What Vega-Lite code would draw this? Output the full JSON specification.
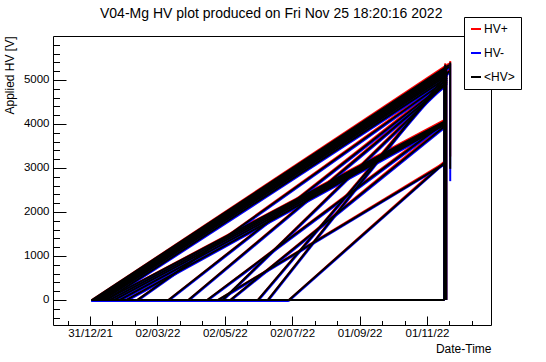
{
  "$schema": "https://vega.github.io/schema/vega-lite/v6.json",
  "width": 438,
  "height": 289,
  "autosize": {"type": "none"},
  "padding": {"left": 53, "top": 36, "right": 55, "bottom": 37},
  "background": "white",
  "title": {
    "text": "V04-Mg HV plot produced on Fri Nov 25 18:20:16 2022",
    "anchor": "start",
    "frame": "group",
    "dx": 47,
    "offset": -4,
    "font": "Liberation Sans",
    "fontSize": 14,
    "fontWeight": "normal",
    "color": "black"
  },
  "data": {
    "values": [
      {"g": "b1", "t": "2022-01-01T00:00", "HV+": 0, "HV-": -25, "<HV>": 0},
      {"g": "b1", "t": "2022-06-29T00:00", "HV+": 0, "HV-": -25, "<HV>": 0},
      {"g": "b2", "t": "2022-06-29T00:00", "HV+": 0, "HV-": 0, "<HV>": 0},
      {"g": "b2", "t": "2022-11-17T00:00", "HV+": 0, "HV-": 0, "<HV>": 0},
      {"g": "v1", "t": "2022-11-16T12:00", "HV+": 0, "HV-": 0, "<HV>": 0},
      {"g": "v1", "t": "2022-11-16T12:00", "HV+": 5310, "HV-": 5250, "<HV>": 5280},
      {"g": "v2", "t": "2022-11-17T12:00", "HV+": 0, "HV-": 0, "<HV>": 0},
      {"g": "v2", "t": "2022-11-17T12:00", "HV+": 5380, "HV-": 5320, "<HV>": 5350},
      {"g": "v3", "t": "2022-11-18T12:00", "HV+": 0, "HV-": 0, "<HV>": 0},
      {"g": "v3", "t": "2022-11-18T12:00", "HV+": 5230, "HV-": 5170, "<HV>": 5200},
      {"g": "v4", "t": "2022-11-22T00:00", "HV+": 5430, "HV-": 5370, "<HV>": 5400},
      {"g": "v4", "t": "2022-11-22T00:00", "HV+": 3260, "HV-": 2700, "<HV>": 2980},
      {"g": "t1", "t": "2022-01-02T00:00", "HV+": 0, "HV-": -25, "<HV>": 0},
      {"g": "t1", "t": "2022-11-21T00:00", "HV+": 5375, "HV-": 5305, "<HV>": 5340},
      {"g": "t2", "t": "2022-01-03T00:00", "HV+": 0, "HV-": -25, "<HV>": 0},
      {"g": "t2", "t": "2022-11-21T00:00", "HV+": 5335, "HV-": 5265, "<HV>": 5300},
      {"g": "t3", "t": "2022-01-04T00:00", "HV+": 0, "HV-": -25, "<HV>": 0},
      {"g": "t3", "t": "2022-11-19T00:00", "HV+": 5295, "HV-": 5225, "<HV>": 5260},
      {"g": "t4", "t": "2022-01-06T00:00", "HV+": 0, "HV-": -25, "<HV>": 0},
      {"g": "t4", "t": "2022-11-19T00:00", "HV+": 5255, "HV-": 5185, "<HV>": 5220},
      {"g": "t5", "t": "2022-01-08T00:00", "HV+": 0, "HV-": -25, "<HV>": 0},
      {"g": "t5", "t": "2022-11-19T00:00", "HV+": 5215, "HV-": 5145, "<HV>": 5180},
      {"g": "t6", "t": "2022-01-10T00:00", "HV+": 0, "HV-": -25, "<HV>": 0},
      {"g": "t6", "t": "2022-11-19T00:00", "HV+": 5175, "HV-": 5105, "<HV>": 5140},
      {"g": "t7", "t": "2022-01-12T00:00", "HV+": 0, "HV-": -25, "<HV>": 0},
      {"g": "t7", "t": "2022-11-19T00:00", "HV+": 5135, "HV-": 5065, "<HV>": 5100},
      {"g": "t8", "t": "2022-01-15T00:00", "HV+": 0, "HV-": -25, "<HV>": 0},
      {"g": "t8", "t": "2022-11-19T00:00", "HV+": 5085, "HV-": 5015, "<HV>": 5050},
      {"g": "t9", "t": "2022-02-12T00:00", "HV+": 0, "HV-": -25, "<HV>": 0},
      {"g": "t9", "t": "2022-11-19T00:00", "HV+": 5035, "HV-": 4965, "<HV>": 5000},
      {"g": "t10", "t": "2022-03-12T00:00", "HV+": 0, "HV-": -25, "<HV>": 0},
      {"g": "t10", "t": "2022-11-19T00:00", "HV+": 4985, "HV-": 4915, "<HV>": 4950},
      {"g": "t11", "t": "2022-03-30T00:00", "HV+": 0, "HV-": -25, "<HV>": 0},
      {"g": "t11", "t": "2022-11-18T00:00", "HV+": 4935, "HV-": 4865, "<HV>": 4900},
      {"g": "t12", "t": "2022-04-30T00:00", "HV+": 0, "HV-": -25, "<HV>": 0},
      {"g": "t12", "t": "2022-11-19T00:00", "HV+": 4985, "HV-": 4915, "<HV>": 4950},
      {"g": "t13", "t": "2022-06-01T00:00", "HV+": 0, "HV-": -25, "<HV>": 0},
      {"g": "t13", "t": "2022-11-19T00:00", "HV+": 5085, "HV-": 5015, "<HV>": 5050},
      {"g": "t14", "t": "2022-06-10T00:00", "HV+": 0, "HV-": -25, "<HV>": 0},
      {"g": "t14", "t": "2022-11-21T00:00", "HV+": 5235, "HV-": 5165, "<HV>": 5200},
      {"g": "m1", "t": "2022-01-14T00:00", "HV+": 0, "HV-": -25, "<HV>": 0},
      {"g": "m1", "t": "2022-11-17T00:00", "HV+": 4095, "HV-": 4025, "<HV>": 4060},
      {"g": "m2", "t": "2022-01-18T00:00", "HV+": 0, "HV-": -25, "<HV>": 0},
      {"g": "m2", "t": "2022-11-17T00:00", "HV+": 4075, "HV-": 4005, "<HV>": 4040},
      {"g": "m3", "t": "2022-01-22T00:00", "HV+": 0, "HV-": -25, "<HV>": 0},
      {"g": "m3", "t": "2022-11-17T00:00", "HV+": 4055, "HV-": 3985, "<HV>": 4020},
      {"g": "m4", "t": "2022-01-27T00:00", "HV+": 0, "HV-": -25, "<HV>": 0},
      {"g": "m4", "t": "2022-11-17T00:00", "HV+": 4035, "HV-": 3965, "<HV>": 4000},
      {"g": "m5", "t": "2022-02-02T00:00", "HV+": 0, "HV-": -25, "<HV>": 0},
      {"g": "m5", "t": "2022-11-17T00:00", "HV+": 4015, "HV-": 3945, "<HV>": 3980},
      {"g": "m6", "t": "2022-04-16T00:00", "HV+": 0, "HV-": -25, "<HV>": 0},
      {"g": "m6", "t": "2022-11-17T00:00", "HV+": 4065, "HV-": 3995, "<HV>": 4030},
      {"g": "m7", "t": "2022-05-07T00:00", "HV+": 0, "HV-": -25, "<HV>": 0},
      {"g": "m7", "t": "2022-11-17T00:00", "HV+": 3985, "HV-": 3915, "<HV>": 3950},
      {"g": "l1", "t": "2022-04-26T00:00", "HV+": 0, "HV-": -25, "<HV>": 0},
      {"g": "l1", "t": "2022-11-16T00:00", "HV+": 3110, "HV-": 3065, "<HV>": 3080},
      {"g": "l2", "t": "2022-06-29T00:00", "HV+": 0, "HV-": -25, "<HV>": 0},
      {"g": "l2", "t": "2022-11-16T00:00", "HV+": 3130, "HV-": 3085, "<HV>": 3100}
    ]
  },
  "transform": [{"fold": ["HV+", "HV-", "<HV>"], "as": ["series", "hv"]}],
  "layer": [
    {
      "transform": [{"filter": {"field": "series", "equal": "HV+"}}],
      "mark": {"type": "line", "strokeWidth": 2, "clip": true},
      "encoding": {
        "x": {
          "field": "t", "type": "temporal",
          "scale": {"domain": [{"year": 2021, "month": 11, "date": 27, "hours": 12}, {"year": 2022, "month": 12, "date": 28, "hours": 22}]},
          "axis": {
            "orient": "bottom",
            "values": [
              {"year": 2021, "month": 12, "date": 10, "hours": 16},
              {"year": 2022, "month": 1, "date": 20, "hours": 8},
              {"year": 2022, "month": 2, "date": 9, "hours": 16},
              {"year": 2022, "month": 3, "date": 22, "hours": 8},
              {"year": 2022, "month": 4, "date": 11, "hours": 16},
              {"year": 2022, "month": 5, "date": 22, "hours": 8},
              {"year": 2022, "month": 6, "date": 11, "hours": 16},
              {"year": 2022, "month": 7, "date": 22, "hours": 8},
              {"year": 2022, "month": 8, "date": 11, "hours": 16},
              {"year": 2022, "month": 9, "date": 21, "hours": 8},
              {"year": 2022, "month": 10, "date": 11, "hours": 16},
              {"year": 2022, "month": 11, "date": 21, "hours": 8},
              {"year": 2022, "month": 12, "date": 11, "hours": 16}
            ],
            "labels": false, "tickSize": -4.5, "tickColor": "black", "domain": false, "grid": false, "title": null
          }
        },
        "y": {
          "field": "hv", "type": "quantitative",
          "scale": {"domain": [-570, 6000], "nice": false, "zero": false},
          "axis": {
            "orient": "left",
            "values": [-400, -200, 200, 400, 600, 800, 1200, 1400, 1600, 1800, 2200, 2400, 2600, 2800, 3200, 3400, 3600, 3800, 4200, 4400, 4600, 4800, 5200, 5400, 5600, 5800],
            "labels": false, "tickSize": -6.5, "tickColor": "black", "domain": false, "grid": false, "title": null
          }
        },
        "color": {
          "field": "series", "type": "nominal",
          "scale": {"domain": ["HV+", "HV-", "<HV>"], "range": ["#ff0000", "#0000ff", "#000000"]},
          "legend": {"title": null, "orient": "none", "legendX": 411, "legendY": -19, "symbolType": "stroke", "symbolSize": 100, "symbolStrokeWidth": 2, "labelFont": "Liberation Sans", "labelFontSize": 12, "labelColor": "black", "padding": 6, "rowPadding": 12, "strokeColor": "black", "fillColor": "white", "labelOffset": 2, "cornerRadius": 0}
        },
        "detail": {"field": "g"}
      }
    },
    {
      "transform": [{"filter": {"field": "series", "equal": "HV-"}}],
      "mark": {"type": "line", "strokeWidth": 2, "clip": true},
      "encoding": {
        "x": {"field": "t", "type": "temporal", "scale": {"domain": [{"year": 2021, "month": 11, "date": 27, "hours": 12}, {"year": 2022, "month": 12, "date": 28, "hours": 22}]}, "axis": null},
        "y": {"field": "hv", "type": "quantitative", "scale": {"domain": [-570, 6000], "nice": false, "zero": false}, "axis": null},
        "color": {
          "field": "series", "type": "nominal",
          "scale": {"domain": ["HV+", "HV-", "<HV>"], "range": ["#ff0000", "#0000ff", "#000000"]},
          "legend": {"title": null, "orient": "none", "legendX": 411, "legendY": -19, "symbolType": "stroke", "symbolSize": 100, "symbolStrokeWidth": 2, "labelFont": "Liberation Sans", "labelFontSize": 12, "labelColor": "black", "padding": 6, "rowPadding": 12, "strokeColor": "black", "fillColor": "white", "labelOffset": 2, "cornerRadius": 0}
        },
        "detail": {"field": "g"}
      }
    },
    {
      "transform": [{"filter": {"field": "series", "equal": "<HV>"}}],
      "mark": {"type": "line", "strokeWidth": 2, "clip": true},
      "encoding": {
        "x": {
          "field": "t", "type": "temporal",
          "scale": {"domain": [{"year": 2021, "month": 11, "date": 27, "hours": 12}, {"year": 2022, "month": 12, "date": 28, "hours": 22}]},
          "axis": {
            "orient": "bottom",
            "values": [
              {"year": 2021, "month": 12, "date": 31},
              {"year": 2022, "month": 3, "date": 2},
              {"year": 2022, "month": 5, "date": 2},
              {"year": 2022, "month": 7, "date": 2},
              {"year": 2022, "month": 9, "date": 1},
              {"year": 2022, "month": 11, "date": 1}
            ],
            "format": "%d/%m/%y",
            "tickSize": -9, "tickColor": "black", "labelPadding": 11,
            "labelFont": "Liberation Sans", "labelFontSize": 11.5, "labelColor": "black",
            "labelFlush": false, "labelOverlap": false,
            "domain": false, "grid": false,
            "title": "Date-Time", "titleFont": "Liberation Sans", "titleFontSize": 12, "titleFontWeight": "normal", "titleColor": "black",
            "titleAlign": "right", "titleX": 438, "titleY": 27, "titleBaseline": "alphabetic"
          }
        },
        "y": {
          "field": "hv", "type": "quantitative",
          "scale": {"domain": [-570, 6000], "nice": false, "zero": false},
          "axis": {
            "orient": "left",
            "values": [0, 1000, 2000, 3000, 4000, 5000],
            "format": "d",
            "tickSize": -13, "tickColor": "black", "labelPadding": 17,
            "labelFont": "Liberation Sans", "labelFontSize": 11.5, "labelColor": "black",
            "domain": false, "grid": false,
            "title": "Applied HV [V]", "titleFont": "Liberation Sans", "titleFontSize": 12, "titleFontWeight": "normal", "titleColor": "black",
            "titleAlign": "right", "titleAngle": 270, "titleX": -40, "titleY": 0, "titleBaseline": "alphabetic"
          }
        },
        "color": {
          "field": "series", "type": "nominal",
          "scale": {"domain": ["HV+", "HV-", "<HV>"], "range": ["#ff0000", "#0000ff", "#000000"]},
          "legend": {"title": null, "orient": "none", "legendX": 411, "legendY": -19, "symbolType": "stroke", "symbolSize": 100, "symbolStrokeWidth": 2, "labelFont": "Liberation Sans", "labelFontSize": 12, "labelColor": "black", "padding": 6, "rowPadding": 12, "strokeColor": "black", "fillColor": "white", "labelOffset": 2, "cornerRadius": 0}
        },
        "detail": {"field": "g"}
      }
    }
  ],
  "resolve": {"axis": {"x": "independent", "y": "independent"}},
  "config": {
    "view": {"stroke": "black", "strokeWidth": 1},
    "font": "Liberation Sans"
  }
}
